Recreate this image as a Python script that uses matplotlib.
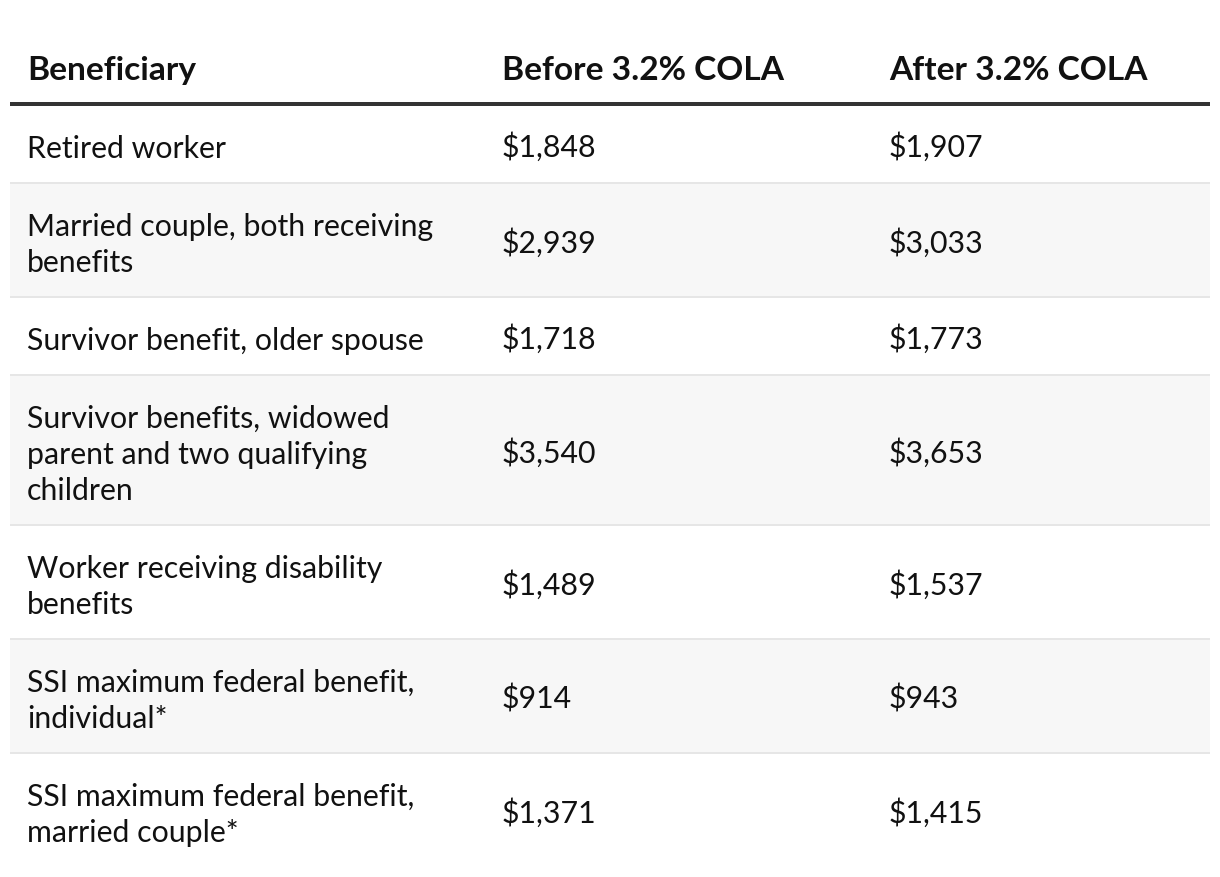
import matplotlib.pyplot as plt
from matplotlib.patches import Rectangle

headers = ['Beneficiary', 'Before 3.2% COLA', 'After 3.2% COLA']
beneficiaries = [
    'Retired worker',
    'Married couple, both receiving\nbenefits',
    'Survivor benefit, older spouse',
    'Survivor benefits, widowed\nparent and two qualifying\nchildren',
    'Worker receiving disability\nbenefits',
    'SSI maximum federal benefit,\nindividual*',
    'SSI maximum federal benefit,\nmarried couple*',
]
before = ['$1,848', '$2,939', '$1,718', '$3,540', '$1,489', '$914', '$1,371']
after = ['$1,907', '$3,033', '$1,773', '$3,653', '$1,537', '$943', '$1,415']

W, H = 1220, 878
fig = plt.figure(figsize=(W / 100, H / 100), dpi=100)
ax = fig.add_axes([0, 0, 1, 1])
ax.set_xlim(0, W)
ax.set_ylim(H, 0)
ax.axis('off')

plt.rcParams['font.family'] = ['Lato', 'DejaVu Sans']
px = 72 / 100  # pixel -> point
txt_col = '#111111'
col_x = [27, 502, 889]
left, right = 10, 1210
fs_head = 33.5
fs_body = 30.3

# header
for x, h in zip(col_x, headers):
    ax.text(x, 80, h, fontsize=fs_head * px, fontweight='bold', color=txt_col, va='baseline', ha='left')
ax.plot([left, right], [105, 105], color='#333333', lw=4 * px, solid_capstyle='butt')

# rows
y = 107
line_h = 36
for i, (name, b, a) in enumerate(zip(beneficiaries, before, after)):
    lines = name.split('\n')
    h = 76 + line_h * (len(lines) - 1)
    if i % 2 == 1:
        ax.add_patch(Rectangle((left, y), right - left, h, color='#f7f7f7', lw=0))
    for k, ln in enumerate(lines):
        ax.text(col_x[0], y + 51 + k * line_h, ln, fontsize=fs_body * px, color=txt_col, va='baseline', ha='left')
    yc = y + h / 2 + 12
    ax.text(col_x[1], yc, b, fontsize=fs_body * px, color=txt_col, va='baseline', ha='left')
    ax.text(col_x[2], yc, a, fontsize=fs_body * px, color=txt_col, va='baseline', ha='left')
    if i < len(beneficiaries) - 1:
        ax.plot([left, right], [y + h + 1, y + h + 1], color='#e6e6e6', lw=2 * px, solid_capstyle='butt')
    y = y + h + 2

plt.savefig('out.png', dpi=100)
